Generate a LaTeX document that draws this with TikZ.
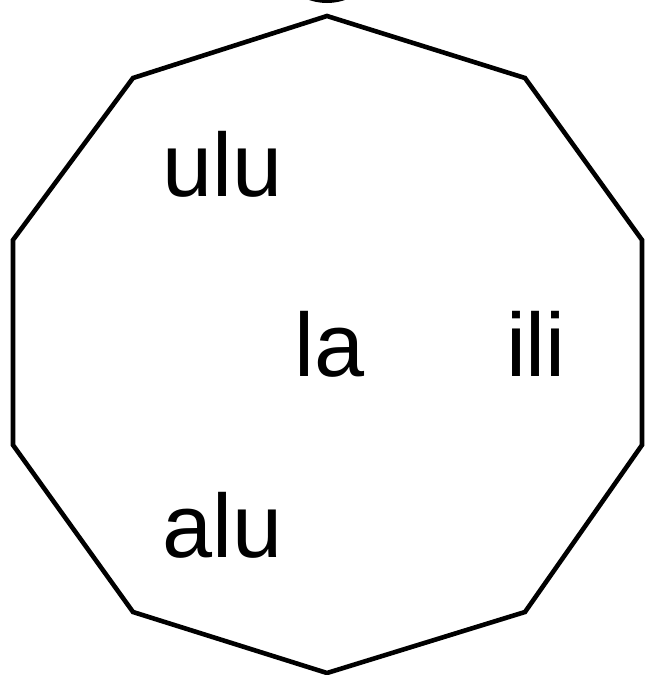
\documentclass[tikz,border=0pt]{standalone}
\usepackage{fontspec}
\setmainfont{Liberation Sans}
\tikzset{
  lbl/.style={anchor=base, inner sep=0pt, font=\fontsize{90}{100}\selectfont},
  edge/.style={line width=4.6pt, line join=miter}
}
\begin{document}
\begin{tikzpicture}[x=1pt,y=-1pt]
\useasboundingbox (0,0) rectangle (645,675);
\clip (0,0) rectangle (645,675);
\fill[white] (0,0) rectangle (645,675);
\fill[black] (327,-52) circle (55);
\coordinate (v1) at (327,16);
\coordinate (v2) at (525,78);
\coordinate (v3) at (642,240);
\coordinate (v4) at (642,445);
\coordinate (v5) at (525,612);
\coordinate (v6) at (327,673);
\coordinate (v7) at (133,612);
\coordinate (v8) at (13,445);
\coordinate (v9) at (13,240);
\coordinate (v10) at (133,78);
\draw[edge] (v1) -- (v2) -- (v3) -- (v4) -- (v5) -- (v6) -- (v7) -- (v8) -- (v9) -- (v10) -- cycle;
\node[lbl] (ulu) at (222.5,196) {ulu};
\node[lbl] (la) at (329.5,376) {la};
\node[lbl] (ili) at (536,376) {ili};
\node[lbl] (alu) at (222.5,557) {alu};
\end{tikzpicture}
\end{document}
